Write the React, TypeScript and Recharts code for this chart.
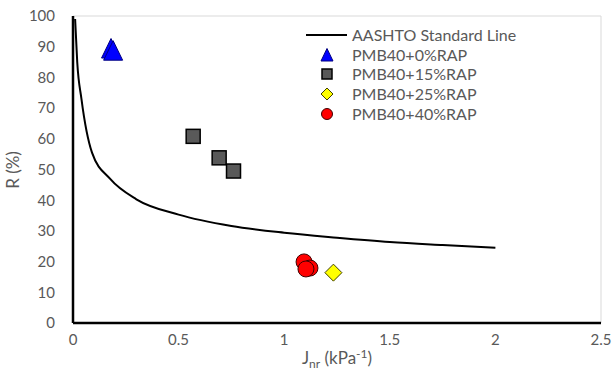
import React from 'react';
import { ComposedChart, Line, Scatter, XAxis, YAxis, Legend, ReferenceLine } from 'recharts';

// AASHTO standard line
const aashtoJnr = [0.01, 0.02, 0.04, 0.09, 0.175, 0.3, 0.5, 0.75, 1, 1.25, 1.5, 1.75, 2];
const aashtoR = [99, 85, 73, 55.5, 47, 40.3, 35.3, 31.6, 29.4, 27.8, 26.4, 25.4, 24.5];

const pmb0Jnr = [0.18, 0.19];
const pmb0R = [89.4, 88.7];
const pmb15Jnr = [0.569, 0.692, 0.76];
const pmb15R = [60.8, 53.8, 49.5];
const pmb25Jnr = [1.233];
const pmb25R = [16.4];
const pmb40Jnr = [1.094, 1.122, 1.103];
const pmb40R = [19.9, 17.9, 17.6];

const xTicks = [0, 0.5, 1, 1.5, 2, 2.5];
const yTicks = [0, 10, 20, 30, 40, 50, 60, 70, 80, 90, 100];

const zip = (xs: number[], ys: number[]) => xs.map((x, i) => ({ x, y: ys[i] }));

const aashto = zip(aashtoJnr, aashtoR);
const pmb0 = zip(pmb0Jnr, pmb0R);
const pmb15 = zip(pmb15Jnr, pmb15R);
const pmb25 = zip(pmb25Jnr, pmb25R);
const pmb40 = zip(pmb40Jnr, pmb40R);

const FONT = "Lato, 'Open Sans', sans-serif";
const GREY = '#595959';

const Triangle = ({ cx, cy, s = 19 }: any) => (
    <polygon
        points={`${cx},${cy - s / 2 - 0.5} ${cx + s / 2},${cy + s / 2} ${cx - s / 2},${cy + s / 2}`}
        fill="#0000ff"
        stroke="#000080"
        strokeWidth={1}
    />
);
const Square = ({ cx, cy, s = 14 }: any) => (
    <rect x={cx - s / 2} y={cy - s / 2} width={s} height={s} fill={GREY} stroke="#000" strokeWidth={1.5} />
);
const Diamond = ({ cx, cy, s = 8.5 }: any) => (
    <polygon
        points={`${cx},${cy - s} ${cx + s},${cy} ${cx},${cy + s} ${cx - s},${cy}`}
        fill="#ffff00"
        stroke="#3f3f00"
        strokeWidth={1}
    />
);
const Circle = ({ cx, cy, r = 8 }: any) => (
    <circle cx={cx} cy={cy} r={r} fill="#ff0000" stroke="#400000" strokeWidth={1} />
);

const legendItems = [
    { name: 'AASHTO Standard Line', kind: 'line' },
    { name: 'PMB40+0%RAP', kind: 'triangle' },
    { name: 'PMB40+15%RAP', kind: 'square' },
    { name: 'PMB40+25%RAP', kind: 'diamond' },
    { name: 'PMB40+40%RAP', kind: 'circle' },
];

const LegendBox = () => (
    <div style={{ fontFamily: FONT, fontSize: 16, color: GREY, textAlign: 'left', lineHeight: '19.7px' }}>
        {legendItems.map((it) => (
            <div key={it.name} style={{ display: 'flex', alignItems: 'center', height: 19.7 }}>
                <svg width={44} height={19.7}>
                    {it.kind === 'line' && <line x1={0} x2={41} y1={10} y2={10} stroke="#000" strokeWidth={2} />}
                    {it.kind === 'triangle' && <Triangle cx={21} cy={10} s={12} />}
                    {it.kind === 'square' && <Square cx={21} cy={10} s={10} />}
                    {it.kind === 'diamond' && <Diamond cx={21} cy={10} s={6} />}
                    {it.kind === 'circle' && <Circle cx={21} cy={10} r={5.5} />}
                </svg>
                <span style={{ marginLeft: 2, lineHeight: '19.7px' }}>{it.name}</span>
            </div>
        ))}
    </div>
);

const XTitle = ({ viewBox }: any) => {
    const cx = viewBox.x + viewBox.width / 2;
    return (
        <text x={cx} y={364} textAnchor="middle" fontFamily={FONT} fontSize={17} fill={GREY}>
            J
            <tspan fontSize={12} dy={4}>nr</tspan>
            <tspan dy={-4}> (kPa</tspan>
            <tspan fontSize={12} dy={-6}>-1</tspan>
            <tspan dy={6}>)</tspan>
        </text>
    );
};

const YTitle = () => (
    <text x={19} y={170} textAnchor="middle" transform="rotate(-90 19 170)" fontFamily={FONT} fontSize={17} fill={GREY}>
        R (%)
    </text>
);

const App: React.FC = () => {
    const tickStyle = { fontFamily: FONT, fontSize: 15, fill: GREY };
    return (
        <div style={{ position: 'absolute', left: 0, top: 0, width: 613, height: 376, background: '#fff' }}>
            <ComposedChart width={613} height={376} margin={{ top: 16, right: 12, bottom: 0, left: 0 }}>
                <ReferenceLine y={100} stroke="#d9d9d9" strokeWidth={1} />
                <ReferenceLine x={2.5} stroke="#d9d9d9" strokeWidth={1} />
                <XAxis
                    type="number"
                    dataKey="x"
                    domain={[0, 2.5]}
                    ticks={xTicks}
                    interval={0}
                    height={53}
                    tickLine={false}
                    tickSize={6}
                    tickMargin={5}
                    axisLine={{ stroke: '#000', strokeWidth: 2.5 }}
                    tick={tickStyle}
                    label={<XTitle />}
                />
                <YAxis
                    type="number"
                    dataKey="y"
                    domain={[0, 100]}
                    ticks={yTicks}
                    interval={0}
                    width={73}
                    tickLine={false}
                    tickSize={6}
                    tickMargin={12}
                    axisLine={{ stroke: '#000', strokeWidth: 2.5 }}
                    tick={tickStyle}
                    label={<YTitle />}
                />
                <Legend
                    layout="vertical"
                    align="center"
                    verticalAlign="middle"
                    content={<LegendBox />}
                    wrapperStyle={{ position: 'absolute', left: 306, top: 25, width: 280 }}
                />
                <Line
                    data={aashto}
                    dataKey="y"
                    name="AASHTO Standard Line"
                    type="monotone"
                    stroke="#000"
                    strokeWidth={2}
                    dot={false}
                    activeDot={false}
                    isAnimationActive={false}
                />
                <Scatter data={pmb0} name="PMB40+0%RAP" shape={<Triangle />} isAnimationActive={false} />
                <Scatter data={pmb15} name="PMB40+15%RAP" shape={<Square />} isAnimationActive={false} />
                <Scatter data={pmb25} name="PMB40+25%RAP" shape={<Diamond />} isAnimationActive={false} />
                <Scatter data={pmb40} name="PMB40+40%RAP" shape={<Circle />} isAnimationActive={false} />
            </ComposedChart>
        </div>
    );
};

export default App;
